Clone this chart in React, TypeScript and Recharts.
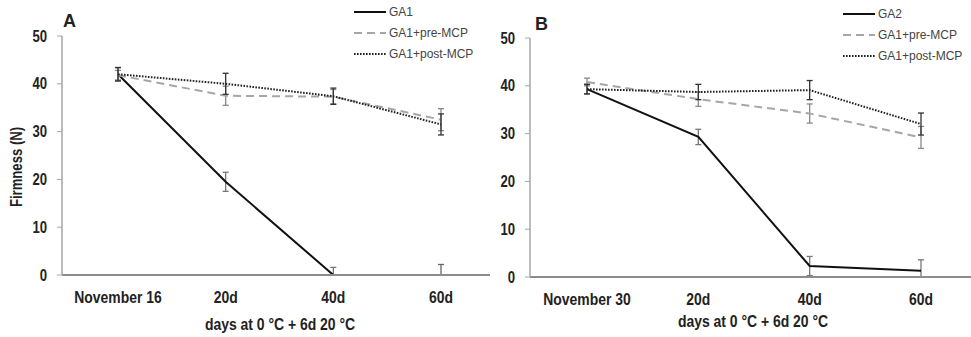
import { LineChart, Line, XAxis, YAxis, ErrorBar } from 'recharts';

const categoriesA = ['November 16', '20d', '40d', '60d'];
const categoriesB = ['November 30', '20d', '40d', '60d'];
const yTicks = [0, 10, 20, 30, 40, 50];

// panel A
const ga1 = [42, 19.5, 0, null];
const ga1Err = [[1.4, 1.4], [2, 2], [0, 1.6], [0, 0]];
const ga1Tail = [null, null, null, 0];
const ga1TailErr = [0, 0, 0, [0, 2.2]];
const preA = [41.8, 37.5, 37.3, 32.5];
const preAErr = [1, 2, 1.5, 2.3];
const postA = [42, 40, 37.4, 31.5];
const postAErr = [1.4, 2.2, 1.7, 2.2];

// panel B
const ga2 = [39.3, 29.3, 2.3, 1.3];
const ga2Err = [1, 1.6, [2, 2], [1.3, 2.3]];
const preB = [40.8, 37.2, 34.2, 29.2];
const preBErr = [0.8, 1.5, 2, 2.3];
const postB = [39.3, 38.7, 39.1, 32];
const postBErr = [1, 1.6, 2, 2.3];

const legendA = ['GA1', 'GA1+pre-MCP', 'GA1+post-MCP'];
const legendB = ['GA2', 'GA1+pre-MCP', 'GA1+post-MCP'];

// no Arial Narrow here, so squeeze Liberation Sans horizontally
const BOLD = '"Liberation Sans", Arial, sans-serif';
const PLAIN = '"Liberation Sans", Arial, sans-serif';
const SQUEEZE = 0.82;

const dataA = categoriesA.map((cat, i) => ({
  cat,
  ga: ga1[i],
  gaErr: ga1Err[i],
  tail: ga1Tail[i],
  tailErr: ga1TailErr[i],
  pre: preA[i],
  preErr: preAErr[i],
  post: postA[i],
  postErr: postAErr[i],
}));

const dataB = categoriesB.map((cat, i) => ({
  cat,
  ga: ga2[i],
  gaErr: ga2Err[i],
  pre: preB[i],
  preErr: preBErr[i],
  post: postB[i],
  postErr: postBErr[i],
}));

const lineStyles = [
  { stroke: '#111', dash: undefined, width: 2 },
  { stroke: '#a6a6a6', dash: '8 5', width: 2 },
  { stroke: '#222', dash: '1.6 1.4', width: 2 },
];

function LegendBox({ labels, left, top }: { labels: string[]; left: number; top: number }) {
  return (
    <div style={{ position: 'absolute', left, top }}>
      {labels.map((l, i) => (
        <div key={l} style={{ display: 'flex', alignItems: 'center', height: 21 }}>
          <svg width={32} height={6} style={{ marginRight: 3 }}>
            <line
              x1={0}
              y1={3}
              x2={32}
              y2={3}
              stroke={lineStyles[i].stroke}
              strokeWidth={lineStyles[i].width}
              strokeDasharray={lineStyles[i].dash}
            />
          </svg>
          <span style={{ fontFamily: PLAIN, fontSize: 12, color: '#444' }}>{l}</span>
        </div>
      ))}
    </div>
  );
}

function XTick({ x, y, payload }: any) {
  return (
    <g transform={`translate(${x},${y})`}>
      <text
        transform={`scale(${SQUEEZE},1)`}
        textAnchor="middle"
        dy="0.71em"
        fontSize={17}
        fontWeight="bold"
        fill="#222"
        fontFamily={BOLD}
      >
        {payload.value}
      </text>
    </g>
  );
}

function YTick({ x, y, payload }: any) {
  return (
    <g transform={`translate(${x},${y})`}>
      <text
        transform={`scale(${SQUEEZE},1)`}
        textAnchor="end"
        dy="0.355em"
        fontSize={16}
        fontWeight="bold"
        fill="#222"
        fontFamily={BOLD}
      >
        {payload.value}
      </text>
    </g>
  );
}

function Panel({
  data,
  width,
  yWidth,
  top,
  padL,
  padR,
  withTail,
}: {
  data: any[];
  width: number;
  yWidth: number;
  top: number;
  padL: number;
  padR: number;
  withTail?: boolean;
}) {
  return (
    <LineChart width={width} height={337} data={data} margin={{ top, right: 0, left: 0, bottom: 337 - top - 239 - 50 }}>
      <XAxis
        dataKey="cat"
        height={50}
        padding={{ left: padL, right: padR }}
        tickLine={false}
        tickSize={6}
        tickMargin={10}
        axisLine={{ stroke: '#8c8c8c', strokeWidth: 2 }}
        tick={<XTick />}
        interval={0}
      />
      <YAxis
        width={yWidth}
        domain={[0, 50]}
        ticks={yTicks}
        tickSize={5}
        tickMargin={10}
        axisLine={{ stroke: '#a6a6a6', strokeWidth: 1.5 }}
        tickLine={{ stroke: '#a6a6a6' }}
        tick={<YTick />}
      />
      <Line dataKey="ga" stroke="#111" strokeWidth={2} dot={false} isAnimationActive={false}>
        <ErrorBar dataKey="gaErr" width={3} stroke="#777" strokeWidth={1.3} />
      </Line>
      {withTail && (
        <Line dataKey="tail" stroke="none" dot={false} isAnimationActive={false}>
          <ErrorBar dataKey="tailErr" width={3} stroke="#666" strokeWidth={1.3} />
        </Line>
      )}
      <Line dataKey="pre" stroke="#a6a6a6" strokeWidth={2} strokeDasharray="8 5" dot={false} isAnimationActive={false}>
        <ErrorBar dataKey="preErr" width={3} stroke="#888" strokeWidth={1.3} />
      </Line>
      <Line dataKey="post" stroke="#222" strokeWidth={2} strokeDasharray="1.6 1.4" dot={false} isAnimationActive={false}>
        <ErrorBar dataKey="postErr" width={3} stroke="#333" strokeWidth={1.3} />
      </Line>
    </LineChart>
  );
}

const title = {
  position: 'absolute' as const,
  fontFamily: BOLD,
  fontWeight: 'bold',
  color: '#222',
  whiteSpace: 'nowrap' as const,
};

export default function App() {
  return (
    <div style={{ position: 'absolute', left: 0, top: 0, width: 971, height: 337, background: '#fff', overflow: 'hidden' }}>
      <div style={{ position: 'absolute', left: 0, top: 0 }}>
        <Panel data={dataA} width={490} yWidth={62} top={36} padL={56} padR={49} withTail />
      </div>
      <div style={{ position: 'absolute', left: 490, top: 0 }}>
        <Panel data={dataB} width={481} yWidth={40} top={38} padL={57} padR={50} />
      </div>

      <div style={{ ...title, left: 63, top: 11, fontSize: 18 }}>A</div>
      <div style={{ ...title, left: 535, top: 14, fontSize: 18 }}>B</div>

      <div
        style={{
          ...title,
          left: 17,
          top: 167,
          fontSize: 16,
          transform: `translate(-50%, -50%) rotate(-90deg) scale(${SQUEEZE}, 1)`,
        }}
      >
        Firmness (N)
      </div>
      <div style={{ ...title, left: 280, top: 325, fontSize: 17, transform: `translate(-50%, -50%) scale(${SQUEEZE}, 1)` }}>
        days at 0 °C + 6d 20 °C
      </div>
      <div style={{ ...title, left: 753, top: 322, fontSize: 17, transform: `translate(-50%, -50%) scale(${SQUEEZE}, 1)` }}>
        days at 0 °C + 6d 20 °C
      </div>

      <LegendBox labels={legendA} left={354} top={1} />
      <LegendBox labels={legendB} left={843} top={3} />
    </div>
  );
}
